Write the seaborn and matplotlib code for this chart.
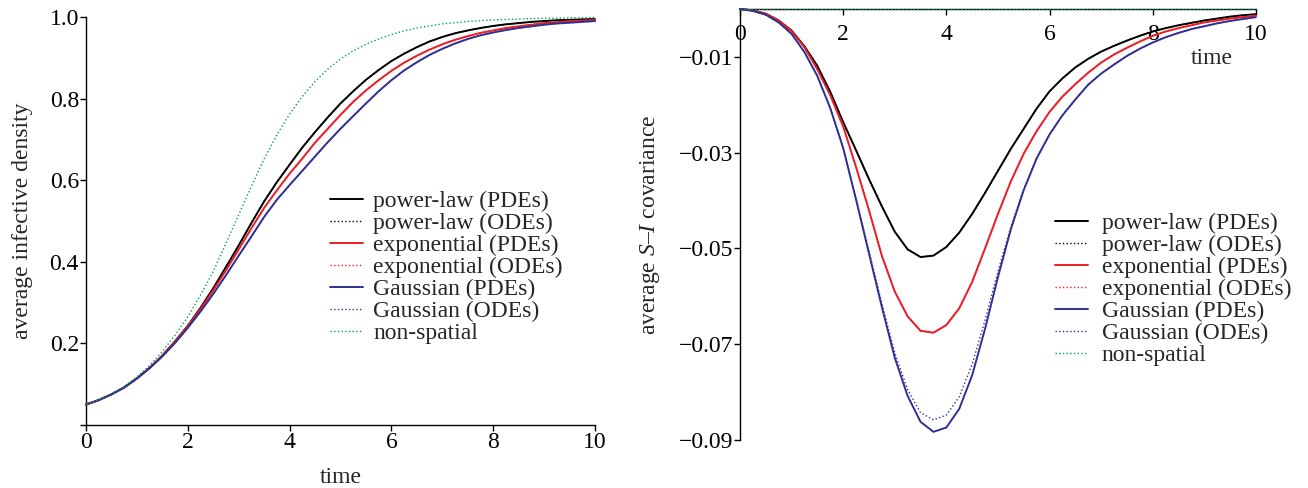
import numpy as np
import pandas as pd
import matplotlib
matplotlib.use("Agg")
import matplotlib.pyplot as plt
import seaborn as sns

sns.set_theme(style="ticks")
plt.rcParams['font.family'] = ['Liberation Serif', 'DejaVu Serif']
plt.rcParams['mathtext.fontset'] = 'custom'
plt.rcParams['mathtext.rm'] = 'Liberation Serif'
plt.rcParams['mathtext.it'] = 'Liberation Serif:italic'

# time grid shared by both panels
time = [0.0, 0.25, 0.5, 0.75, 1.0, 1.25, 1.5, 1.75, 2.0, 2.25, 2.5, 2.75,
        3.0, 3.25, 3.5, 3.75, 4.0, 4.25, 4.5, 4.75, 5.0, 5.25, 5.5, 5.75,
        6.0, 6.25, 6.5, 6.75, 7.0, 7.25, 7.5, 7.75, 8.0, 8.25, 8.5, 8.75,
        9.0, 9.25, 9.5, 9.75, 10.0]

# left panel: average infective density
inf_power = [0.050, 0.061, 0.075, 0.092, 0.114, 0.140, 0.170, 0.205, 0.243, 0.287, 0.335, 0.387,
             0.440, 0.495, 0.548, 0.595, 0.638, 0.680, 0.718, 0.754, 0.788, 0.818, 0.846, 0.870,
             0.892, 0.910, 0.926, 0.940, 0.951, 0.960, 0.967, 0.973, 0.978, 0.982, 0.985, 0.988,
             0.990, 0.992, 0.993, 0.994, 0.995]
inf_power_ode = inf_power
inf_exp = [0.050, 0.061, 0.075, 0.092, 0.114, 0.140, 0.170, 0.204, 0.242, 0.284, 0.330, 0.379,
           0.430, 0.482, 0.532, 0.575, 0.616, 0.653, 0.692, 0.726, 0.760, 0.792, 0.820, 0.845,
           0.868, 0.888, 0.905, 0.920, 0.933, 0.944, 0.953, 0.961, 0.967, 0.973, 0.977, 0.981,
           0.985, 0.987, 0.990, 0.991, 0.993]
inf_exp_ode = inf_exp
inf_gauss = [0.050, 0.061, 0.075, 0.092, 0.114, 0.139, 0.168, 0.201, 0.238, 0.278, 0.321, 0.367,
             0.415, 0.462, 0.510, 0.552, 0.588, 0.623, 0.658, 0.693, 0.726, 0.757, 0.788, 0.818,
             0.845, 0.869, 0.889, 0.907, 0.922, 0.935, 0.946, 0.955, 0.962, 0.968, 0.973, 0.977,
             0.981, 0.984, 0.986, 0.988, 0.990]
inf_gauss_ode = inf_gauss
inf_nonspatial = [0.050, 0.062, 0.076, 0.094, 0.118, 0.146, 0.180, 0.220, 0.265, 0.318, 0.376, 0.445,
                  0.515, 0.585, 0.652, 0.711, 0.762, 0.805, 0.842, 0.872, 0.897, 0.917, 0.933, 0.946,
                  0.957, 0.966, 0.973, 0.978, 0.983, 0.986, 0.989, 0.991, 0.993, 0.994, 0.995, 0.996,
                  0.997, 0.997, 0.998, 0.998, 0.999]

# right panel: average S-I covariance
cov_power = [0.0, -0.0003, -0.0010, -0.0024, -0.0045, -0.0078, -0.0119, -0.0173, -0.0236, -0.0295,
             -0.0355, -0.0412, -0.0465, -0.0502, -0.0518, -0.0515, -0.0497, -0.0467, -0.0428, -0.0384,
             -0.0338, -0.0292, -0.0250, -0.0208, -0.0172, -0.0145, -0.0122, -0.0104, -0.0089, -0.0077,
             -0.0066, -0.0056, -0.0047, -0.0040, -0.0034, -0.0029, -0.0024, -0.0020, -0.0016, -0.0013,
             -0.0011]
cov_power_ode = cov_power
cov_exp = [0.0, -0.0003, -0.0010, -0.0024, -0.0046, -0.0080, -0.0126, -0.0180, -0.0245, -0.0330,
           -0.0420, -0.0515, -0.0590, -0.0642, -0.0672, -0.0676, -0.0660, -0.0625, -0.0570, -0.0500,
           -0.0428, -0.0360, -0.0302, -0.0255, -0.0215, -0.0183, -0.0157, -0.0133, -0.0112, -0.0095,
           -0.0081, -0.0068, -0.0056, -0.0047, -0.0040, -0.0034, -0.0028, -0.0024, -0.0020, -0.0017,
           -0.0014]
cov_exp_ode = cov_exp
cov_gauss = [0.0, -0.0004, -0.0012, -0.0028, -0.0052, -0.0090, -0.0140, -0.0207, -0.0290, -0.0398,
             -0.0510, -0.0622, -0.0728, -0.0808, -0.0862, -0.0883, -0.0874, -0.0835, -0.0765, -0.0668,
             -0.0560, -0.0460, -0.0378, -0.0312, -0.0262, -0.0222, -0.0189, -0.0158, -0.0135, -0.0116,
             -0.0098, -0.0083, -0.0070, -0.0059, -0.0050, -0.0042, -0.0036, -0.0030, -0.0025, -0.0021,
             -0.0017]
cov_gauss_ode = [0.0, -0.0004, -0.0012, -0.0028, -0.0052, -0.0090, -0.0140, -0.0207, -0.0290, -0.0396,
                 -0.0505, -0.0615, -0.0718, -0.0795, -0.0843, -0.0858, -0.0848, -0.0810, -0.0742, -0.0650,
                 -0.0548, -0.0455, -0.0376, -0.0312, -0.0262, -0.0222, -0.0189, -0.0158, -0.0135, -0.0116,
                 -0.0098, -0.0083, -0.0070, -0.0059, -0.0050, -0.0042, -0.0036, -0.0030, -0.0025, -0.0021,
                 -0.0017]
cov_nonspatial = [0.0] * len(time)

labels = ["power-law (PDEs)", "power-law (ODEs)", "exponential (PDEs)", "exponential (ODEs)",
          "Gaussian (PDEs)", "Gaussian (ODEs)", "non-spatial"]
colors = ["black", "black", "#ee1c24", "#ee1c24", "#2e3192", "#2e3192", "#00a060"]
styles = ["-", ":", "-", ":", "-", ":", ":"]

FS = 17

fig = plt.figure(figsize=(13.08, 4.88), dpi=100)
ax1 = fig.add_axes([0.0657, 0.1291, 0.3892, 0.8361])
ax2 = fig.add_axes([0.5657, 0.0984, 0.3945, 0.8832])


def draw(ax, series):
    for vals, lab, col, ls in zip(series, labels, colors, styles):
        lw = 1.4 if ls == "-" else 1.0
        sns.lineplot(x=time, y=vals, ax=ax, color=col, linestyle=ls, lw=lw,
                     label=lab, clip_on=False, zorder=3)


draw(ax1, [inf_power, inf_power_ode, inf_exp, inf_exp_ode, inf_gauss, inf_gauss_ode, inf_nonspatial])
draw(ax2, [cov_power, cov_power_ode, cov_exp, cov_exp_ode, cov_gauss, cov_gauss_ode, cov_nonspatial])

for ax in (ax1, ax2):
    sns.despine(ax=ax)
    ax.set_xlim(0, 10)
    ax.set_xticks([0, 2, 4, 6, 8, 10])
    ax.tick_params(labelsize=FS, length=4, width=1, pad=1, direction='out', colors='black')
    for s in ax.spines.values():
        s.set_color('black')
        s.set_linewidth(1)

# left panel
ax1.set_ylim(0, 1.0)
ax1.set_yticks([0, 0.2, 0.4, 0.6, 0.8, 1.0])
ax1.set_yticklabels(["", "0.2", "0.4", "0.6", "0.8", "1.0"])
ax1.set_xlabel("time", fontsize=FS, labelpad=10)
ax1.set_ylabel("average infective density", fontsize=FS, labelpad=12)
ax1.legend(loc="upper left", bbox_to_anchor=(0.479, 0.574), frameon=False, fontsize=FS,
           borderpad=0, borderaxespad=0, handlelength=1.4, handletextpad=0.45,
           labelspacing=0.02)

# right panel: x axis sits on y = 0 at the top
ax2.set_ylim(-0.09, 0)
ax2.set_yticks([-0.01, -0.03, -0.05, -0.07, -0.09])
ax2.set_yticklabels(["\u22120.01", "\u22120.03", "\u22120.05", "\u22120.07", "\u22120.09"])
ax2.spines['bottom'].set_position(('data', 0))
ax2.tick_params(axis='x', pad=7)
ax2.set_xlabel("time", fontsize=FS)
ax2.xaxis.set_label_coords(0.915, 0.91)
ax2.set_ylabel("average $S$\u2013$I$ covariance", fontsize=FS, labelpad=12)
ax2.legend(loc="upper left", bbox_to_anchor=(0.610, 0.527), frameon=False, fontsize=FS,
           borderpad=0, borderaxespad=0, handlelength=1.4, handletextpad=0.6,
           labelspacing=0.02)

fig.savefig("out.png", dpi=100)
